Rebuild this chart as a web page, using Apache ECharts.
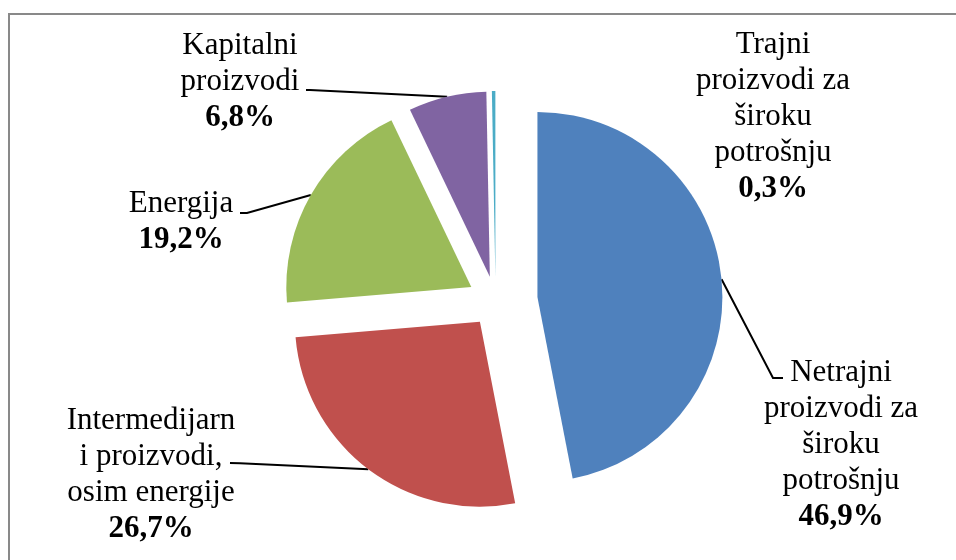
<!DOCTYPE html>
<html>
<head>
<meta charset="utf-8">
<script src="https://cdn.jsdelivr.net/npm/echarts@6/dist/echarts.min.js"></script>
<style>
  html, body { margin: 0; padding: 0; background: #fff; }
  #main { width: 956px; height: 560px; }
</style>
</head>
<body>
<div id="main"></div>
<script>
// categories clockwise from 12 o'clock
var categories = [
    'Netrajni\nproizvodi za\nširoku\npotrošnju',
    'Intermedijarn\ni proizvodi,\nosim energije',
    'Energija',
    'Kapitalni\nproizvodi',
    'Trajni\nproizvodi za\nširoku\npotrošnju'
];
var shares = [46.9, 26.7, 19.2, 6.8, 0.3];

var colors = ['#4F81BD', '#C0504D', '#9BBB59', '#8064A2', '#4BACC6'];
// how far each slice is pulled out of the pie (px)
var explode = [42, 26, 28, 25, 25];
// label block centres and the bend / end of the leader lines
var labelPos = [[841, 445], [151, 475], [181, 222], [240, 82], [773, 117]];
var lineBend = [[[773, 378], [783, 378]], [[240, 463.3], [230, 463]], [[247, 213], [240, 213]], [[310, 90], [306, 90]], null];

var baseCenter = [495.6, 301];
var R = 185;
var font = "'Liberation Serif', 'Times New Roman', serif";

var total = shares.reduce(function(a, b) { return a + b; }, 0);
var midAngles = [];
var acc = 0;
shares.forEach(function(v) {
    midAngles.push((acc + v / 2) / total * 2 * Math.PI);
    acc += v;
});

function fmt(params) {
    var lines = params.name.split('\n').map(function(s) { return '{n|' + s + '}'; });
    lines.push('{v|' + params.value.toFixed(1).replace('.', ',') + '%}');
    return lines.join('\n');
}

var series = shares.map(function(_, i) {
    var a = midAngles[i];
    var c = [baseCenter[0] + explode[i] * Math.sin(a), baseCenter[1] - explode[i] * Math.cos(a)];
    return {
        type: 'pie',
        radius: R,
        center: c,
        startAngle: 90,
        clockwise: true,
        silent: true,
        avoidLabelOverlap: false,
        emphasis: { disabled: true },
        label: {
            position: 'outside',
            formatter: fmt,
            rich: {
                n: { fontFamily: font, fontSize: 31, lineHeight: 36, color: '#000' },
                v: { fontFamily: font, fontSize: 31, lineHeight: 36, color: '#000', fontWeight: 'bold' }
            }
        },
        labelLine: { show: true, lineStyle: { color: '#000', width: 2 } },
        labelLayout: function(params) {
            if (params.dataIndex !== i) return;
            var out = {
                x: labelPos[i][0],
                y: labelPos[i][1],
                align: 'center',
                verticalAlign: 'middle'
            };
            if (lineBend[i]) {
                var start = [c[0] + R * Math.sin(a), c[1] - R * Math.cos(a)];
                out.labelLinePoints = [start, lineBend[i][0], lineBend[i][1]];
            }
            return out;
        },
        data: shares.map(function(v, j) {
            return {
                name: categories[j],
                value: v,
                itemStyle: { color: j === i ? colors[j] : 'rgba(0,0,0,0)', borderWidth: 0 },
                label: { show: j === i },
                labelLine: { show: j === i && lineBend[j] !== null }
            };
        })
    };
});

var myChart = echarts.init(document.getElementById('main'));
myChart.setOption({
    backgroundColor: '#fff',
    animation: false,
    graphic: [{
        type: 'rect',
        silent: true,
        z: -1,
        shape: { x: 9, y: 14, width: 960, height: 560 },
        style: { fill: 'none', stroke: '#898989', lineWidth: 2 }
    }],
    series: series
});
</script>
</body>
</html>
